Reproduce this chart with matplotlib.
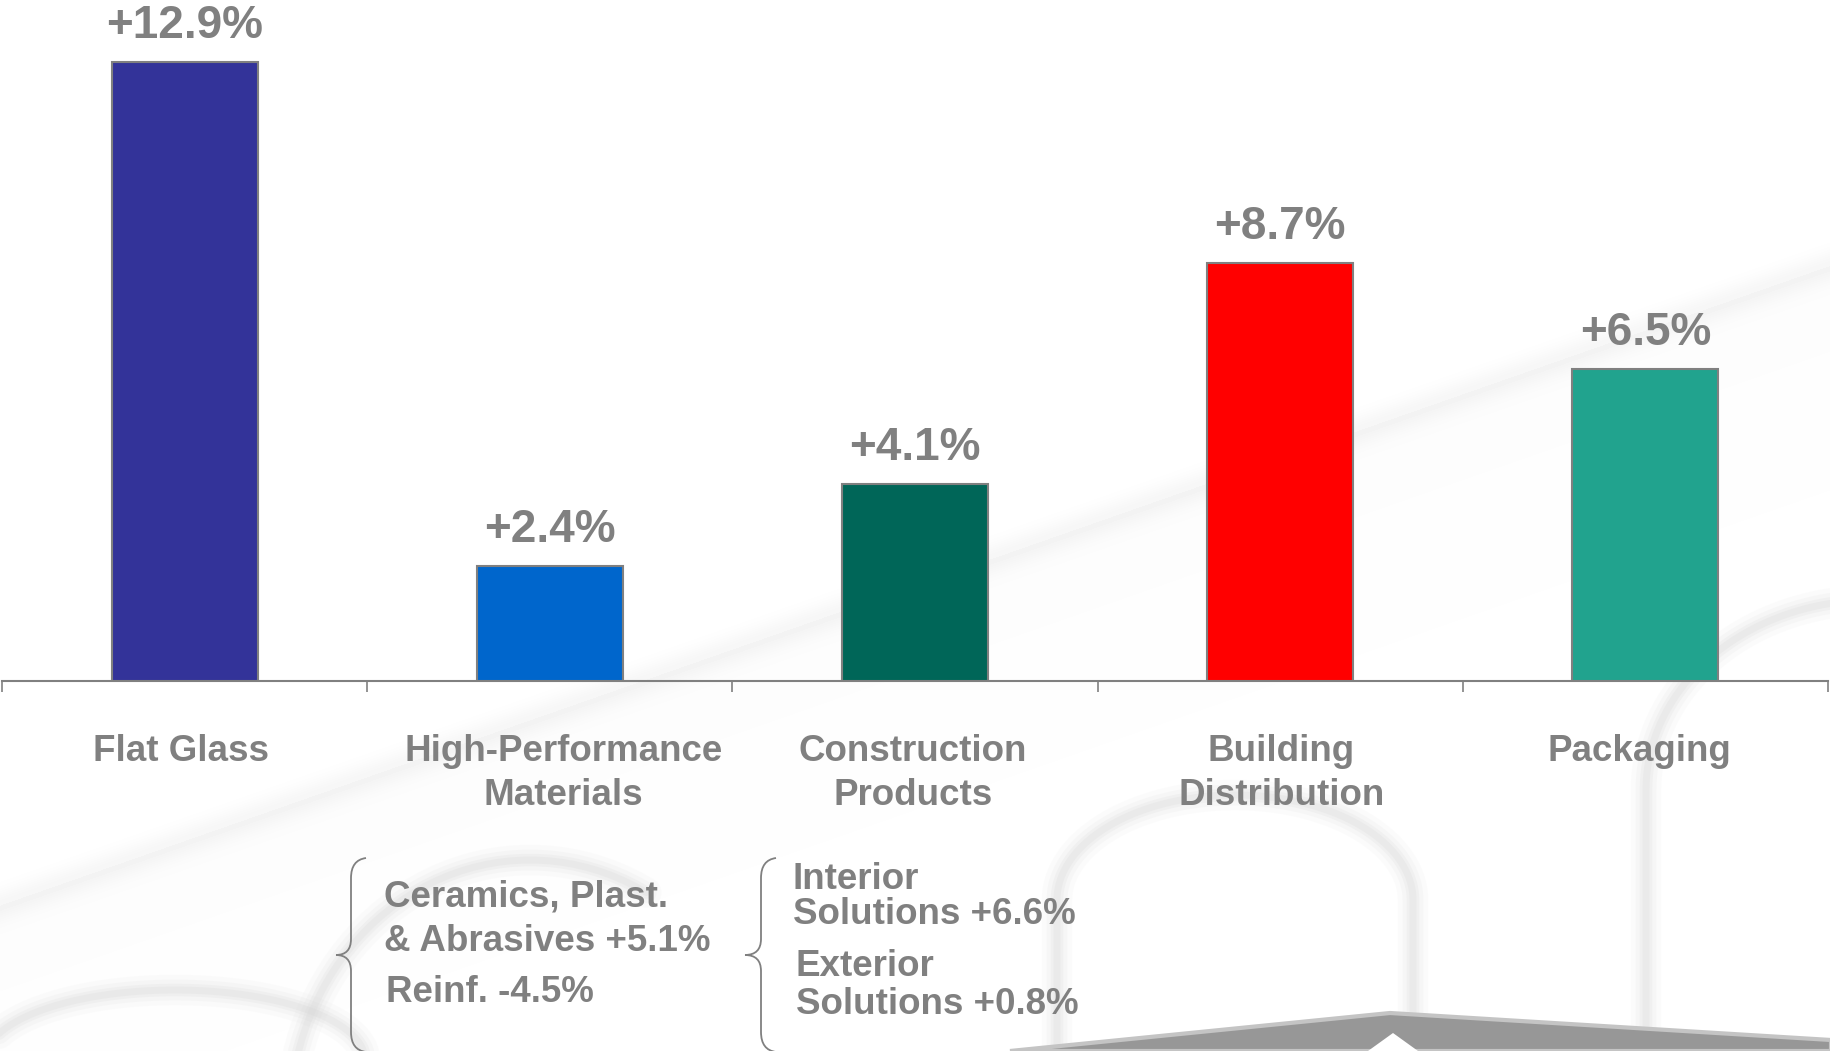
import matplotlib
matplotlib.use('Agg')
import matplotlib.pyplot as plt
from matplotlib.path import Path
from matplotlib.patches import PathPatch, Polygon
import numpy as np

plt.rcParams['font.family'] = ['Liberation Sans', 'DejaVu Sans']
plt.rcParams['font.weight'] = 'bold'

# segment sales growth
segments = ['Flat Glass', 'High-Performance\nMaterials', 'Construction\nProducts',
            'Building\nDistribution', 'Packaging']
growth = [12.9, 2.4, 4.1, 8.7, 6.5]
value_labels = ['+12.9%', '+2.4%', '+4.1%', '+8.7%', '+6.5%']
bar_colors = ['#333399', '#0066CC', '#006658', '#FF0000', '#21A38E']

# breakdown notes under two of the segments
hpm_detail = ['Ceramics, Plast.', '& Abrasives +5.1%', 'Reinf. -4.5%']
cp_detail = ['Interior', 'Solutions +6.6%', 'Exterior', 'Solutions +0.8%']

GREY = '#808080'
W, H = 1831, 1051
fig = plt.figure(figsize=(W / 100, H / 100), dpi=100)

# background layer in pixel units (y down)
bg = fig.add_axes([0, 0, 1, 1])
bg.set_xlim(0, W)
bg.set_ylim(H, 0)
bg.axis('off')

# faint diagonal streak across the slide
yy, xx = np.mgrid[0:H, 0:W]
d = yy - (905 - 640.0 / W * xx)
shade = 1 - 0.035 * np.exp(-(d / 16.0) ** 2) - 0.012 * (d > 0) * np.exp(-d / 200.0)
bg.imshow(shade, cmap='gray', vmin=0, vmax=1, extent=(0, W, H, 0), aspect='auto', zorder=0)


def soft_line(xs, ys, color='#d6d6d6'):
    for lw, a in [(22, 0.08), (15, 0.12), (9, 0.18), (5, 0.22)]:
        bg.plot(xs, ys, color=color, lw=lw, alpha=a, solid_capstyle='round', zorder=1)


def arch(x0, x1, y_leg, y_top):
    # rounded arch: two vertical legs joined by a half-ellipse
    t = np.linspace(np.pi, 0, 80)
    cx, rx = (x0 + x1) / 2, (x1 - x0) / 2
    xs = np.concatenate([[x0], cx + rx * np.cos(t), [x1]])
    ys = np.concatenate([[H], y_leg - (y_leg - y_top) * np.sin(t), [H]])
    soft_line(xs, ys)


arch(1057, 1413, 900, 795)
arch(1646, 2100, 790, 600)
t = np.linspace(0, np.pi, 60)
soft_line(175 + 190 * np.cos(np.pi - t), 1060 - 70 * np.sin(t))
soft_line(530 + 240 * np.cos(np.pi - t[:40]), 1120 - 260 * np.sin(t[:40]))

# roof silhouette at the bottom
bg.add_patch(Polygon([(1010, H), (1390, 1013), (W, 1040), (W, H)],
                     closed=True, facecolor='#979797', edgecolor='#c4c4c4', lw=3, zorder=2))
bg.add_patch(Polygon([(1368, H), (1393, 1033), (1418, H)], closed=True,
                     facecolor='white', edgecolor='none', zorder=2))


def brace(x_top, x_mid, x_tip, y0, y1):
    ym = (y0 + y1) / 2
    verts = [(x_top, y0), (x_mid, y0 + 2), (x_mid, y0 + 20),
             (x_mid, ym - 16), (x_mid, ym), (x_tip, ym),
             (x_mid, ym), (x_mid, ym + 16),
             (x_mid, y1 - 20), (x_mid, y1 - 2), (x_top, y1)]
    codes = [Path.MOVETO, Path.CURVE3, Path.CURVE3,
             Path.LINETO, Path.CURVE3, Path.CURVE3,
             Path.CURVE3, Path.CURVE3,
             Path.LINETO, Path.CURVE3, Path.CURVE3]
    bg.add_patch(PathPatch(Path(verts, codes), facecolor='none', edgecolor=GREY, lw=1.3, zorder=3))


brace(366, 351, 336, 858, 1052)
brace(776, 761, 745, 858, 1052)

for txt, (x, y) in zip(hpm_detail, [(384, 906), (384, 951), (386, 1002)]):
    bg.text(x, y, txt, fontsize=26.5, color=GREY, va='baseline', ha='left', zorder=4)
for txt, (x, y) in zip(cp_detail, [(793, 889), (793, 924), (796, 976), (796, 1014)]):
    bg.text(x, y, txt, fontsize=26.5, color=GREY, va='baseline', ha='left', zorder=4)

# bar chart
ax = fig.add_axes([2 / W, 370 / H, 1826 / W, 681 / H])
ax.patch.set_visible(False)
x = np.arange(len(segments))
ax.bar(x, growth, width=0.4, color=bar_colors, edgecolor=GREY, linewidth=1.5, zorder=3)
for xi, v, lab in zip(x, growth, value_labels):
    ax.text(xi, v + 0.5, lab, ha='center', va='baseline', fontsize=33, color=GREY)

ax.set_xlim(-0.5, 4.5)
ax.set_ylim(0, 681 / 48)
for s in ['top', 'left', 'right']:
    ax.spines[s].set_visible(False)
ax.spines['bottom'].set_color(GREY)
ax.spines['bottom'].set_linewidth(1.5)
ax.set_yticks([])
# category labels sit slightly off the bar centres
label_pos = x + np.array([-0.01, 0.038, -0.005, 0.003, -0.017])
ax.set_xticks(label_pos, segments)
ax.set_xticks(np.arange(-0.5, 5, 1), minor=True)
ax.tick_params(axis='x', which='major', length=0, pad=38.5, labelsize=26.5, labelcolor=GREY)
ax.tick_params(axis='x', which='minor', length=8, width=1.2, color=GREY, direction='out')
for lbl in ax.get_xticklabels():
    lbl.set_linespacing(1.3)

fig.savefig('out.png', dpi=100)
